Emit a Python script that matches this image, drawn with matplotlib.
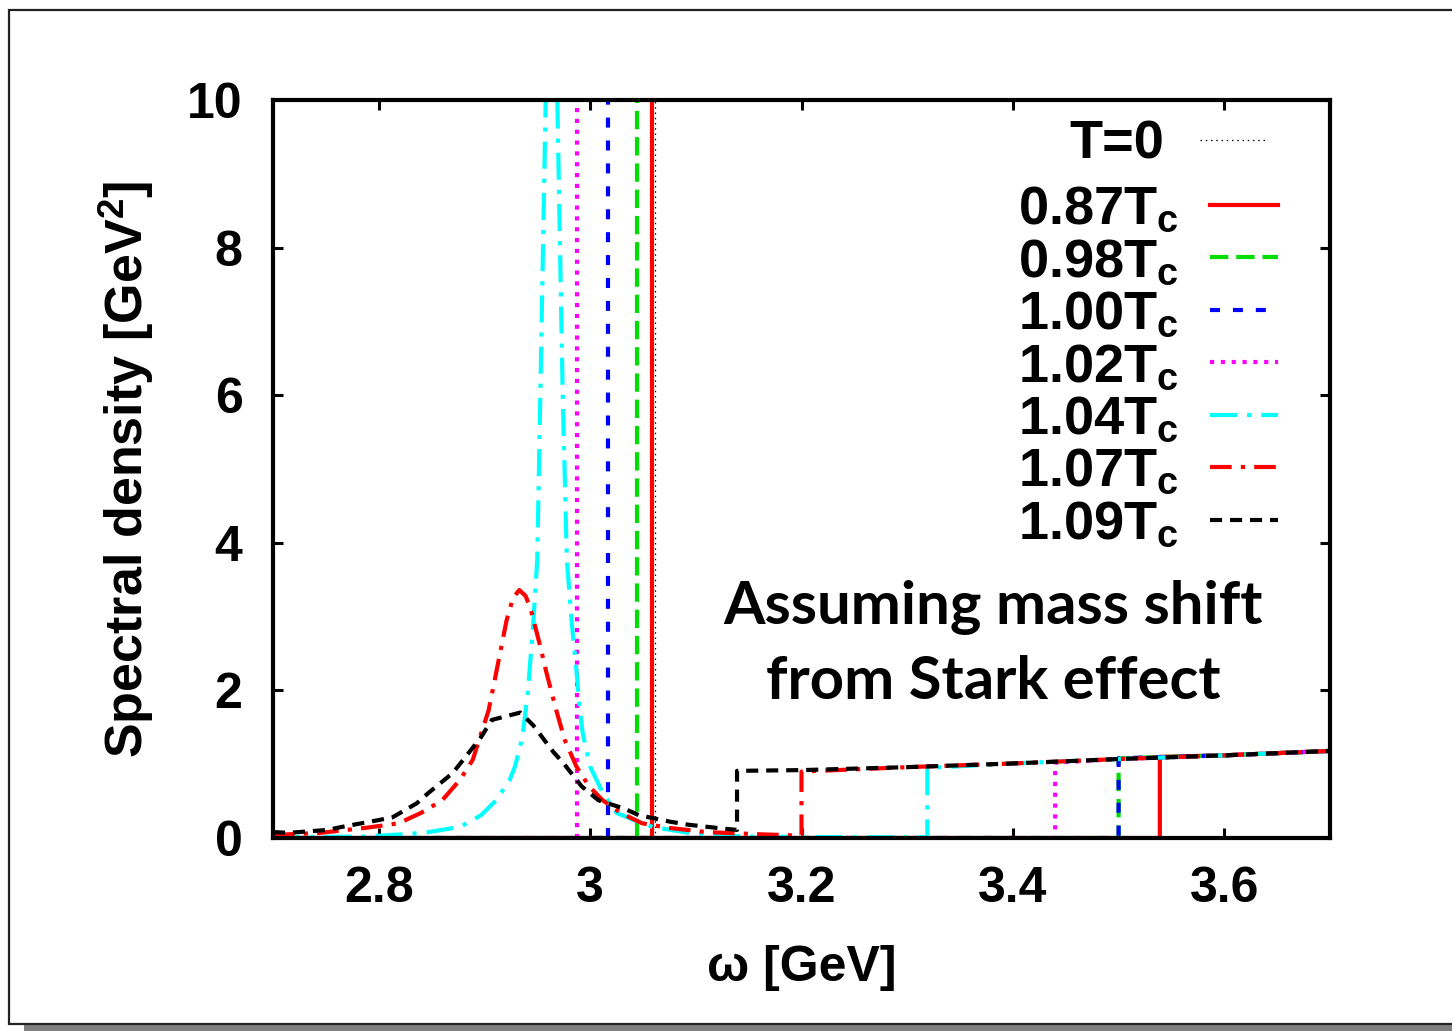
import numpy as np
import matplotlib
matplotlib.use("Agg")
import matplotlib.pyplot as plt
from matplotlib.patches import Rectangle

# ---------------- data ----------------
labels = ["T=0", "0.87T$_c$", "0.98T$_c$", "1.00T$_c$", "1.02T$_c$",
          "1.04T$_c$", "1.07T$_c$", "1.09T$_c$"]
colors = ["black", "#ff0000", "#00dd00", "#0000ff", "#ff00ff",
          "#00ffff", "#ff0000", "black"]

# sharp (delta-like) bound-state peaks [GeV]; None = broad peak given below
delta_pos = [3.061, 3.059, 3.044, 3.017, 2.988, None, None, None]

# continuum thresholds [GeV] and height of the step at threshold [GeV^2]
thresholds = [3.540, 3.539, 3.500, 3.500, 3.440, 3.319, 3.200, 3.139]
step_levels = [1.10, 1.10, 1.08, 1.08, 1.02, 0.95, 0.90, 0.91]

# common continuum above thresholds
cont_omega = [3.14, 3.20, 3.30, 3.40, 3.50, 3.60, 3.70]
cont_rho = [0.91, 0.92, 0.96, 1.01, 1.07, 1.12, 1.18]

# broad peaks below threshold
omega_104 = [2.700, 2.789, 2.843, 2.877, 2.897, 2.911, 2.924, 2.929, 2.936,
             2.941, 2.946, 2.950, 2.953, 2.958, 2.9635, 2.969, 2.974, 2.978,
             2.983, 2.987, 2.990, 2.993, 3.000, 3.012, 3.025, 3.042, 3.059,
             3.093, 3.144, 3.250, 3.319]
rho_104 = [0.01, 0.02, 0.07, 0.15, 0.31, 0.51, 0.79, 0.97, 1.37,
           1.96, 2.86, 3.77, 6.07, 10.0, 25.0, 10.0, 6.07, 3.77,
           2.86, 2.28, 1.78, 1.42, 0.97, 0.61, 0.34, 0.24, 0.15,
           0.07, 0.02, 0.01, 0.01]

omega_107 = [2.700, 2.745, 2.789, 2.819, 2.840, 2.860, 2.877, 2.889, 2.895,
             2.904, 2.911, 2.921, 2.927, 2.933, 2.939, 2.944, 2.953, 2.958,
             2.968, 2.976, 2.987, 2.999, 3.012, 3.029, 3.049, 3.073, 3.110,
             3.161, 3.184, 3.200]
rho_107 = [0.04, 0.07, 0.14, 0.20, 0.34, 0.51, 0.79, 1.06, 1.33,
           1.73, 2.23, 2.95, 3.25, 3.36, 3.28, 3.09, 2.59, 2.28,
           1.73, 1.33, 0.97, 0.70, 0.51, 0.34, 0.20, 0.14, 0.08,
           0.05, 0.04, 0.03]

omega_109 = [2.700, 2.715, 2.752, 2.765, 2.799, 2.813, 2.836, 2.847, 2.870,
             2.880, 2.897, 2.907, 2.934, 2.946, 2.965, 2.975, 2.992, 3.008,
             3.032, 3.046, 3.076, 3.093, 3.124, 3.139]
rho_109 = [0.08, 0.07, 0.11, 0.15, 0.24, 0.28, 0.47, 0.61, 0.88,
           1.06, 1.37, 1.60, 1.70, 1.53, 1.17, 1.01, 0.70, 0.51,
           0.40, 0.31, 0.22, 0.18, 0.13, 0.11]

broad = {5: (omega_104, rho_104), 6: (omega_107, rho_107), 7: (omega_109, rho_109)}

xticks = [2.8, 3.0, 3.2, 3.4, 3.6]
xticklabels = ["2.8", "3", "3.2", "3.4", "3.6"]
yticks = [0, 2, 4, 6, 8, 10]
yticklabels = ["0", "2", "4", "6", "8", "10"]

# ---------------- style ----------------
plt.rcParams["font.family"] = ["Liberation Sans", "DejaVu Sans"]
plt.rcParams["font.weight"] = "bold"
plt.rcParams["mathtext.fontset"] = "custom"
plt.rcParams["mathtext.rm"] = "Liberation Sans:bold"
plt.rcParams["mathtext.it"] = "Liberation Sans:bold"
plt.rcParams["mathtext.bf"] = "Liberation Sans:bold"
plt.rcParams["mathtext.default"] = "rm"

LW = 3.0
styles = [
    dict(lw=0.9, dashes=(1.2, 3.0)),
    dict(lw=LW, linestyle="-"),
    dict(lw=LW, dashes=(4.4, 1.9)),
    dict(lw=LW, dashes=(2.4, 3.1)),
    dict(lw=LW, dashes=(1.0, 1.6)),
    dict(lw=LW, dashes=(6.5, 2.4, 1.0, 2.4)),
    dict(lw=LW, dashes=(5.2, 2.2, 1.0, 2.2)),
    dict(lw=LW, dashes=(2.9, 1.9)),
]

fig = plt.figure(figsize=(14.52, 10.31), dpi=100)
fig.patch.set_facecolor("white")

# slide frame with shadow
fig.patches.append(Rectangle((24 / 1452, 0.0), 1.0, 1 - 1025 / 1031,
                             transform=fig.transFigure, facecolor="#808080",
                             edgecolor="none", zorder=0))
fig.patches.append(Rectangle((9 / 1452, 1 - 1024 / 1031), 1.2, (1024 - 10) / 1031,
                             transform=fig.transFigure, facecolor="white",
                             edgecolor="#222222", linewidth=1.6, zorder=1))

ax = fig.add_axes([273 / 1452, 1 - 838 / 1031, (1330 - 273) / 1452, (838 - 100) / 1031])
ax.set_zorder(2)

handles = []
for i in range(len(labels)):
    thr = thresholds[i]
    c_om = [w for w in cont_omega if w > thr]
    c_rh = [r for w, r in zip(cont_omega, cont_rho) if w > thr]
    if delta_pos[i] is not None:
        low_om, low_rh = [2.70, thr], [0.0, 0.0]
    else:
        low_om, low_rh = list(broad[i][0]), list(broad[i][1])
    om = low_om + [thr] + c_om
    rh = low_rh + [step_levels[i]] + c_rh
    (ln,) = ax.plot(om, rh, color=colors[i], label=labels[i],
                    dash_capstyle="butt", **styles[i])
    handles.append(ln)
    if delta_pos[i] is not None:
        ax.axvline(delta_pos[i], color=colors[i], dash_capstyle="butt", **styles[i])

ax.set_xlim(2.7, 3.7)
ax.set_ylim(0, 10)
ax.set_xticks(xticks)
ax.set_xticklabels(xticklabels)
ax.set_yticks(yticks)
ax.set_yticklabels(yticklabels)
ax.tick_params(direction="in", length=7, width=2.2, top=True, right=True,
               labelsize=36)
ax.tick_params(axis="x", pad=20)
ax.tick_params(axis="y", pad=22)
for s in ax.spines.values():
    s.set_linewidth(3.0)

ax.set_xlabel("ω [GeV]", fontsize=36, fontweight="bold", labelpad=24)
ax.set_ylabel("Spectral density [GeV$^2$]", fontsize=37.5, fontweight="bold",
              labelpad=22)

leg1 = ax.legend(handles=handles[:1], loc="upper right",
                 bbox_to_anchor=(0.940, 0.973), frameon=False,
                 markerfirst=False, fontsize=39, handlelength=1.22,
                 handletextpad=0.66, borderpad=0, borderaxespad=0)
ax.add_artist(leg1)
leg2 = ax.legend(handles=handles[1:], loc="upper right",
                 bbox_to_anchor=(0.951, 0.885), frameon=False,
                 markerfirst=False, fontsize=39, handlelength=1.25,
                 handletextpad=0.58, labelspacing=0.045, borderpad=0,
                 borderaxespad=0)

ax.text(0.681, 0.262, "Assuming mass shift\nfrom Stark effect",
        transform=ax.transAxes, ha="center", va="center", fontsize=43,
        fontweight="bold", family=["Lato", "DejaVu Sans"], linespacing=1.45)

fig.savefig("out.png", dpi=100, facecolor="white")
